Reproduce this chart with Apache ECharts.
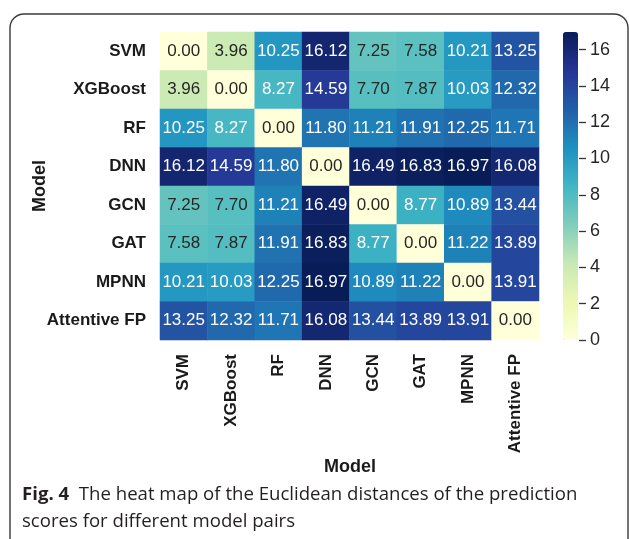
<!DOCTYPE html>
<html>
<head>
<meta charset="utf-8">
<script src="https://cdn.jsdelivr.net/npm/echarts@6/dist/echarts.min.js"></script>
<style>
  html, body { margin: 0; padding: 0; background: #fff; }
  #chart { width: 629px; height: 539px; }
</style>
</head>
<body>
<div id="chart"></div>
<script>
// model names, same order on both axes
const models = ['SVM', 'XGBoost', 'RF', 'DNN', 'GCN', 'GAT', 'MPNN', 'Attentive FP'];

// one row per model (distance to every other model)
const rowSVM = [0.00, 3.96, 10.25, 16.12, 7.25, 7.58, 10.21, 13.25];
const rowXGBoost = [3.96, 0.00, 8.27, 14.59, 7.70, 7.87, 10.03, 12.32];
const rowRF = [10.25, 8.27, 0.00, 11.80, 11.21, 11.91, 12.25, 11.71];
const rowDNN = [16.12, 14.59, 11.80, 0.00, 16.49, 16.83, 16.97, 16.08];
const rowGCN = [7.25, 7.70, 11.21, 16.49, 0.00, 8.77, 10.89, 13.44];
const rowGAT = [7.58, 7.87, 11.91, 16.83, 8.77, 0.00, 11.22, 13.89];
const rowMPNN = [10.21, 10.03, 12.25, 16.97, 10.89, 11.22, 0.00, 13.91];
const rowAttFP = [13.25, 12.32, 11.71, 16.08, 13.44, 13.89, 13.91, 0.00];

// colorbar ticks: 0 .. 16 step 2
const cbMin = 0;
const cbMax = 16;
const cbStep = 2;

const rows = [rowSVM, rowXGBoost, rowRF, rowDNN, rowGCN, rowGAT, rowMPNN, rowAttFP];

// YlGnBu
const ylGnBu = ['#ffffd9', '#edf8b1', '#c7e9b4', '#7fcdbb', '#41b6c4', '#1d91c0', '#225ea8', '#253494', '#081d58'];

let vmax = 0;
let heatData = [];
for (let r = 0; r < rows.length; r++) {
  for (let c = 0; c < rows[r].length; c++) {
    let v = rows[r][c];
    if (v > vmax) vmax = v;
    heatData.push({
      value: [c, r, v],
      label: {color: v < 8 ? '#262626' : '#ffffff'}
    });
  }
}

const font = '"Liberation Sans", Arial, sans-serif';

// colorbar box
const cbTop = 32, cbHeight = 308, cbLeft = 563, cbWidth = 15;
// the tick axis covers only 0..16 of the 0..vmax bar
const tickTop = cbTop + cbHeight * (vmax - cbMax) / vmax;

const chart = echarts.init(document.getElementById('chart'));

const option = {
  animation: false,
  grid: [
    {left: 160, top: 32, width: 379, height: 308},
    {left: cbLeft, top: tickTop, width: cbWidth + 1, height: cbTop + cbHeight - tickTop}
  ],
  xAxis: [
    {
      type: 'category',
      data: models,
      axisLine: {show: false},
      axisTick: {show: false},
      splitLine: {show: false},
      axisLabel: {
        rotate: 90,
        margin: 14,
        fontFamily: font,
        fontWeight: 'bold',
        fontSize: 17,
        color: '#1a1a1a'
      }
    },
    {
      type: 'value',
      gridIndex: 1,
      show: false
    }
  ],
  yAxis: [
    {
      type: 'category',
      data: models,
      inverse: true,
      axisLine: {show: false},
      axisTick: {show: false},
      splitLine: {show: false},
      axisLabel: {
        margin: 14,
        fontFamily: font,
        fontWeight: 'bold',
        fontSize: 17,
        color: '#1a1a1a'
      }
    },
    {
      type: 'value',
      gridIndex: 1,
      position: 'right',
      min: cbMin,
      max: cbMax,
      interval: cbStep,
      axisLine: {show: false, onZero: false},
      splitLine: {show: false},
      axisTick: {
        show: true,
        inside: false,
        length: 7,
        lineStyle: {color: '#333', width: 1.3}
      },
      axisLabel: {
        margin: 11,
        fontFamily: font,
        fontSize: 18,
        color: '#262626'
      }
    }
  ],
  visualMap: {
    type: 'continuous',
    seriesIndex: 0,
    min: 0,
    max: vmax,
    calculable: false,
    orient: 'vertical',
    left: cbLeft,
    top: cbTop,
    itemWidth: cbWidth,
    itemHeight: cbHeight,
    padding: 0,
    text: ['', ''],
    showLabel: false,
    hoverLink: false,
    inRange: {color: ylGnBu}
  },
  series: [
    {
      type: 'heatmap',
      data: heatData,
      label: {
        show: true,
        fontFamily: font,
        fontSize: 17,
        formatter: p => p.value[2].toFixed(2)
      },
      itemStyle: {borderWidth: 0},
      emphasis: {disabled: true}
    }
  ],
  graphic: [
    {
      type: 'rect',
      shape: {x: 10, y: 14, width: 618, height: 600, r: 14},
      style: {fill: 'none', stroke: '#3a3a3a', lineWidth: 1.4},
      silent: true,
      z: -1
    },
    {
      type: 'text',
      x: 350,
      y: 467,
      style: {
        text: 'Model',
        font: 'bold 18px ' + font,
        fill: '#1a1a1a',
        align: 'center',
        verticalAlign: 'middle'
      }
    },
    {
      type: 'text',
      x: 40,
      y: 186,
      rotation: Math.PI / 2,
      style: {
        text: 'Model',
        font: 'bold 18px ' + font,
        fill: '#1a1a1a',
        align: 'center',
        verticalAlign: 'middle'
      }
    },
    {
      type: 'text',
      x: 22,
      y: 495,
      style: {
        text: '{b|Fig. 4}  The heat map of the Euclidean distances of the prediction',
        verticalAlign: 'middle',
        fill: '#231f20',
        font: '18.6px "Open Sans", sans-serif',
        rich: {
          b: {font: 'bold 18.6px "Open Sans", sans-serif', fill: '#231f20'}
        }
      }
    },
    {
      type: 'text',
      x: 22,
      y: 522,
      style: {
        text: 'scores for different model pairs',
        verticalAlign: 'middle',
        fill: '#231f20',
        font: '18.6px "Open Sans", sans-serif'
      }
    }
  ]
};

chart.setOption(option);
</script>
</body>
</html>
